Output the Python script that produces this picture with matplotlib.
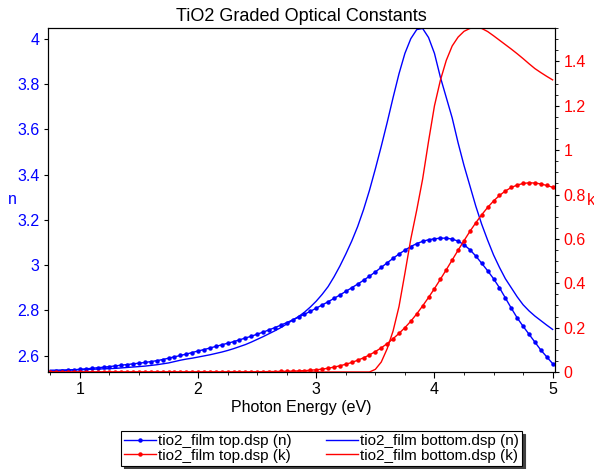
import numpy as np
import matplotlib
matplotlib.use('Agg')
from matplotlib import pyplot as plt
from matplotlib.ticker import MultipleLocator

plt.rcParams['font.family'] = ['Liberation Sans', 'DejaVu Sans']

# photon energy grid (eV), 0.75 .. 5.00 in 0.05 steps
energy = np.round(np.arange(0.75, 5.0001, 0.05), 2)

# tio2_film top.dsp (n)
top_n = [2.530, 2.532, 2.534, 2.536, 2.538, 2.540, 2.542, 2.544, 2.547, 2.549,
         2.552, 2.555, 2.558, 2.561, 2.564, 2.567, 2.570, 2.574, 2.578, 2.583,
         2.589, 2.595, 2.601, 2.607, 2.614, 2.621, 2.627, 2.634, 2.641, 2.648,
         2.655, 2.662, 2.670, 2.678, 2.686, 2.695, 2.704, 2.714, 2.724, 2.735,
         2.746, 2.758, 2.770, 2.783, 2.796, 2.810, 2.824, 2.838, 2.853, 2.868,
         2.884, 2.900, 2.916, 2.933, 2.951, 2.970, 2.990, 3.010, 3.030, 3.049,
         3.066, 3.082, 3.095, 3.105, 3.112, 3.116, 3.119, 3.119, 3.115, 3.106,
         3.090, 3.068, 3.040, 3.008, 2.975, 2.940, 2.900, 2.855, 2.810, 2.767,
         2.730, 2.695, 2.660, 2.625, 2.595, 2.565]

# tio2_film top.dsp (k)
top_k = [0.000, 0.000, 0.000, 0.000, 0.000, 0.000, 0.000, 0.000, 0.000, 0.000,
         0.000, 0.000, 0.000, 0.000, 0.000, 0.000, 0.000, 0.000, 0.000, 0.000,
         0.000, 0.000, 0.000, 0.000, 0.000, 0.000, 0.000, 0.000, 0.000, 0.000,
         0.000, 0.000, 0.000, 0.000, 0.000, 0.001, 0.001, 0.002, 0.002, 0.003,
         0.003, 0.004, 0.005, 0.006, 0.008, 0.010, 0.013, 0.017, 0.022, 0.028,
         0.035, 0.043, 0.053, 0.064, 0.077, 0.092, 0.109, 0.128, 0.150, 0.174,
         0.200, 0.229, 0.262, 0.298, 0.336, 0.376, 0.418, 0.461, 0.505, 0.549,
         0.592, 0.634, 0.673, 0.709, 0.742, 0.771, 0.796, 0.816, 0.832, 0.843,
         0.850, 0.853, 0.852, 0.848, 0.841, 0.833]

# tio2_film bottom.dsp (n)
bottom_n = [2.536, 2.536, 2.537, 2.537, 2.538, 2.538, 2.539, 2.540, 2.541, 2.542,
            2.543, 2.544, 2.546, 2.548, 2.550, 2.552, 2.554, 2.557, 2.560, 2.564,
            2.568, 2.574, 2.580, 2.585, 2.589, 2.594, 2.599, 2.604, 2.610, 2.616,
            2.623, 2.631, 2.640, 2.649, 2.660, 2.672, 2.684, 2.697, 2.710, 2.724,
            2.740, 2.757, 2.773, 2.792, 2.815, 2.841, 2.871, 2.905, 2.948, 2.996,
            3.049, 3.106, 3.170, 3.245, 3.330, 3.425, 3.525, 3.630, 3.740, 3.845,
            3.935, 4.000, 4.040, 4.045, 4.005, 3.935, 3.830, 3.740, 3.650, 3.540,
            3.440, 3.350, 3.260, 3.180, 3.110, 3.045, 2.990, 2.940, 2.900, 2.860,
            2.825, 2.798, 2.775, 2.755, 2.735, 2.716]

# tio2_film bottom.dsp (k)
bottom_k = [0.000, 0.000, 0.000, 0.000, 0.000, 0.000, 0.000, 0.000, 0.000, 0.000,
            0.000, 0.000, 0.000, 0.000, 0.000, 0.000, 0.000, 0.000, 0.000, 0.000,
            0.000, 0.000, 0.000, 0.000, 0.000, 0.000, 0.000, 0.000, 0.000, 0.000,
            0.000, 0.000, 0.000, 0.000, 0.000, 0.000, 0.000, 0.000, 0.000, 0.000,
            0.000, 0.000, 0.000, 0.000, 0.000, 0.000, 0.000, 0.000, 0.000, 0.000,
            0.000, 0.000, 0.000, 0.000, 0.000, 0.012, 0.045, 0.105, 0.185, 0.295,
            0.445, 0.600, 0.730, 0.870, 1.040, 1.200, 1.315, 1.405, 1.470, 1.510,
            1.536, 1.549, 1.553, 1.549, 1.535, 1.516, 1.496, 1.476, 1.456, 1.435,
            1.413, 1.390, 1.368, 1.350, 1.333, 1.317]

blue = '#0000ff'
red = '#ff0000'

fig = plt.figure(figsize=(5.94, 4.69), dpi=100)
ax = fig.add_axes([48/594, 1 - 372/469, 507/594, 344/469])
ax2 = ax.twinx()

l1, = ax.plot(energy, top_n, color=blue, lw=1.0, marker='o', ms=2.2,
              label='tio2_film top.dsp (n)')
l3, = ax.plot(energy, bottom_n, color=blue, lw=1.0,
              label='tio2_film bottom.dsp (n)')
l2, = ax2.plot(energy, top_k, color=red, lw=1.0, marker='o', ms=2.2,
               label='tio2_film top.dsp (k)')
l4, = ax2.plot(energy, bottom_k, color=red, lw=1.0,
               label='tio2_film bottom.dsp (k)')

ax.set_xlim(0.73, 5.02)
ax.set_ylim(2.528, 4.047)
ax2.set_ylim(0, 1.551)

ax.xaxis.set_major_locator(MultipleLocator(1))
ax.xaxis.set_minor_locator(MultipleLocator(0.25))
ax2.yaxis.set_minor_locator(MultipleLocator(0.05))

ax.set_yticks(np.arange(2.6, 4.01, 0.2))
ax.set_yticklabels(['2.6', '2.8', '3', '3.2', '3.4', '3.6', '3.8', '4'])
ax2.set_yticks(np.arange(0, 1.41, 0.2))
ax2.set_yticklabels(['0', '0.2', '0.4', '0.6', '0.8', '1', '1.2', '1.4'])

ax.tick_params(axis='x', which='major', length=4, width=0.8, labelsize=11.5, pad=3)
ax.tick_params(axis='x', which='minor', length=2.5, width=0.6)
ax.tick_params(axis='y', which='major', length=3, width=0.8, labelsize=11.5,
               labelcolor=blue, pad=3)
ax2.tick_params(axis='y', which='major', length=3, width=0.8, labelsize=11.5,
                labelcolor=red, pad=3)
ax2.tick_params(axis='y', which='minor', length=2, width=0.6)

ax.set_xlabel('Photon Energy (eV)', fontsize=11.5, labelpad=2)
ax.set_ylabel('n', fontsize=11.5, color=blue, rotation=0, va='center')
ax.yaxis.set_label_coords(-0.071, 0.5)
ax2.set_ylabel('k', fontsize=11.5, color=red, rotation=0, va='center')
ax2.yaxis.set_label_coords(1.07, 0.5)

ax.set_title('TiO2 Graded Optical Constants', fontsize=13, pad=5)

leg = fig.legend([l1, l2, l3, l4], [l.get_label() for l in [l1, l2, l3, l4]],
                 ncol=2, loc='upper left',
                 bbox_to_anchor=(121/594, 1 - 431/469),
                 fontsize=11, frameon=True, fancybox=False,
                 shadow={'color': '0.25', 'alpha': 1},
                 edgecolor='black', borderpad=0.2, labelspacing=0.05,
                 handlelength=2.1, handletextpad=0.15, columnspacing=2.2,
                 borderaxespad=0)
leg.get_frame().set_linewidth(0.8)

fig.savefig('out.png', dpi=100)
